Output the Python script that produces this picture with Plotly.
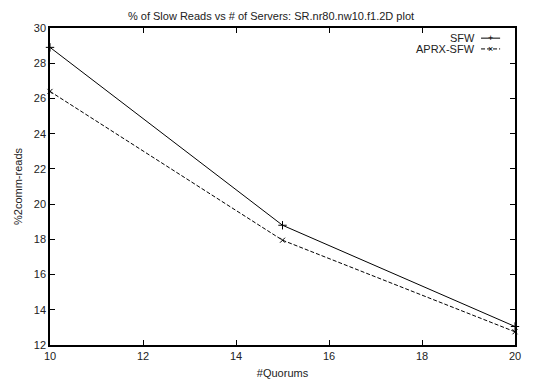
import plotly.graph_objects as go

quorums = [10, 15, 20]
sfw = [28.9, 18.8, 13.05]
aprx_sfw = [26.4, 17.95, 12.75]
x_ticks = [10, 12, 14, 16, 18, 20]
y_ticks = [12, 14, 16, 18, 20, 22, 24, 26, 28, 30]

font = "Liberation Sans, Arial, sans-serif"
dash_pat = "4px,2px"

fig = go.Figure()
fig.add_trace(go.Scatter(
    x=quorums, y=sfw, name="SFW", mode="lines+markers",
    line=dict(color="black", width=1),
    marker=dict(symbol="cross-thin-open", size=6, line=dict(color="black", width=1)),
    showlegend=False, cliponaxis=False))
fig.add_trace(go.Scatter(
    x=quorums, y=aprx_sfw, name="APRX-SFW", mode="lines+markers",
    line=dict(color="black", width=1, dash=dash_pat),
    marker=dict(symbol="x-thin-open", size=5, line=dict(color="black", width=1)),
    showlegend=False, cliponaxis=False))

axis_common = dict(
    showgrid=False, zeroline=False, showline=True, linecolor="black", linewidth=1.5,
    mirror="ticks", ticks="inside", ticklen=5, tickcolor="black", tickwidth=1,
    tickfont=dict(family=font, size=11, color="#222"), automargin=False,
)

# the page body has an 8px default margin, so the figure is sized 8px smaller
fig.update_layout(
    width=526, height=377,
    margin=dict(l=42, r=19, t=20, b=40),
    paper_bgcolor="white", plot_bgcolor="white",
    font=dict(family=font, size=11, color="#222"),
    title=dict(text="% of Slow Reads vs # of Servers: SR.nr80.nw10.f1.2D plot",
               x=0.5, xanchor="center", y=0.978, yanchor="middle",
               font=dict(family=font, size=11, color="#222")),
    xaxis=dict(range=[10, 20], tickvals=x_ticks,
               title=dict(text="#Quorums", standoff=8, font=dict(family=font, size=11)),
               **axis_common),
    yaxis=dict(range=[12, 30], tickvals=y_ticks,
               title=dict(text="%2comm-reads", standoff=9, font=dict(family=font, size=11)),
               **axis_common),
)

# gnuplot-style key (top right): text right-aligned, then a short line sample with its marker
key_rows = [("SFW", "+", "solid", 0.968), ("APRX-SFW", "×", dash_pat, 0.934)]
for label, sym, dash, yk in key_rows:
    fig.add_annotation(xref="paper", yref="paper", x=0.918, y=yk, text=label,
                       showarrow=False, xanchor="right", yanchor="middle",
                       font=dict(family=font, size=11, color="#222"))
    fig.add_shape(type="line", xref="paper", yref="paper",
                  x0=0.927, x1=0.968, y0=yk, y1=yk,
                  line=dict(color="black", width=1, dash=dash))
    fig.add_annotation(xref="paper", yref="paper", x=0.9475, y=yk, text=sym,
                       showarrow=False, xanchor="center", yanchor="middle",
                       font=dict(family=font, size=9, color="black"))

fig.write_html("out.html")
